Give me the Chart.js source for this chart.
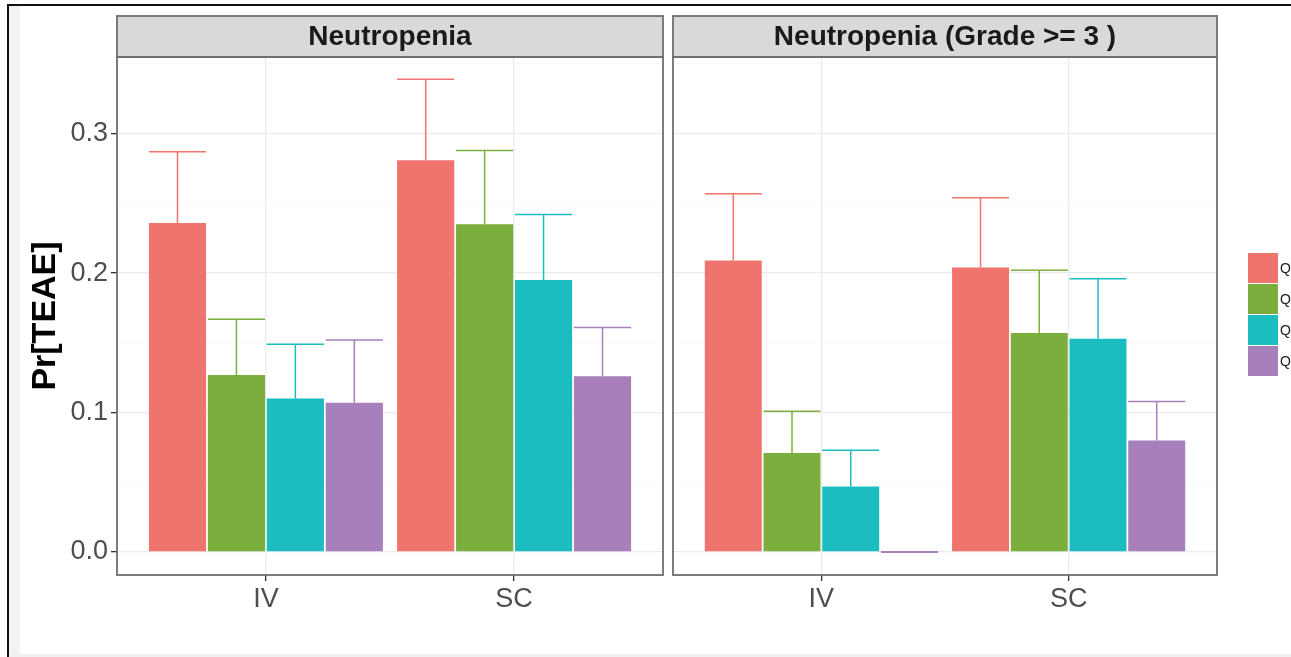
<!DOCTYPE html>
<html>
<head>
<meta charset="utf-8">
<title>Neutropenia by route and exposure quartile</title>
<script src="https://cdn.jsdelivr.net/npm/chart.js@4.4.1/dist/chart.umd.min.js"></script>
<style>
  html, body { margin: 0; padding: 0; background: #fff; }
  body { width: 1291px; height: 657px; position: relative; overflow: hidden; }
  .frame { position: absolute; left: 7px; top: 4px; right: 0; bottom: 0; border-left: 2px solid #111; border-top: 2px solid #111; }
  .margin { position: absolute; left: 9px; top: 6px; width: 11px; bottom: 3px; background: #f3f3f3; }
  .foot { position: absolute; left: 9px; right: 0; bottom: 0; height: 3px; background: #f0f0f0; }
  canvas { position: absolute; top: 0; }
  #anyGrade { left: 22px; }
  #grade3 { left: 668px; }
</style>
</head>
<body>
<div class="frame"></div>
<div class="margin"></div>
<div class="foot"></div>
<canvas id="anyGrade" width="646" height="652"></canvas>
<canvas id="grade3" width="623" height="652"></canvas>
<script>
const routes = ['IV', 'SC'];
const quartiles = ['Q1', 'Q2', 'Q3', 'Q4'];
const fills = ['#f0746e', '#7cae3e', '#1cbdc1', '#a67fbb'];

// probability of TEAE, one row per quartile: [IV, SC]
const anyGradeRate = [
  [0.236, 0.281],
  [0.127, 0.235],
  [0.110, 0.195],
  [0.107, 0.126]
];
const anyGradeUpper = [
  [0.287, 0.339],
  [0.167, 0.288],
  [0.149, 0.242],
  [0.152, 0.161]
];
const grade3Rate = [
  [0.209, 0.204],
  [0.071, 0.157],
  [0.047, 0.153],
  [0.000, 0.080]
];
const grade3Upper = [
  [0.257, 0.254],
  [0.101, 0.202],
  [0.073, 0.196],
  [null, 0.108]
];

const yTicks = [0, 0.05, 0.1, 0.15, 0.2, 0.25, 0.3, 0.35];
const isMajor = v => Math.abs(v * 10 - Math.round(v * 10)) < 1e-6;
const FONT = '"Liberation Sans", Arial, sans-serif';

// upper whiskers on top of each bar
const errorBars = {
  id: 'errorBars',
  afterDatasetsDraw(chart) {
    const ctx = chart.ctx;
    const y = chart.scales.y;
    chart.data.datasets.forEach((ds, i) => {
      chart.getDatasetMeta(i).data.forEach((bar, j) => {
        const hi = ds.upper[j];
        if (hi == null) return;
        const top = y.getPixelForValue(hi);
        const half = bar.width / 2;
        ctx.save();
        ctx.strokeStyle = ds.backgroundColor;
        ctx.lineWidth = 1.5;
        ctx.beginPath();
        ctx.moveTo(bar.x, bar.y);
        ctx.lineTo(bar.x, top);
        ctx.moveTo(bar.x - half, top);
        ctx.lineTo(bar.x + half, top);
        ctx.stroke();
        ctx.restore();
      });
    });
  }
};

// facet strip + panel border
const facet = {
  id: 'facet',
  afterDraw(chart, args, opts) {
    const { ctx, chartArea: a } = chart;
    ctx.save();
    ctx.fillStyle = '#d9d9d9';
    ctx.fillRect(a.left, 16, a.right - a.left, a.top - 16);
    ctx.strokeStyle = '#6f6f6f';
    ctx.lineWidth = 1.8;
    ctx.strokeRect(a.left, 16, a.right - a.left, a.top - 16);
    ctx.strokeRect(a.left, a.top, a.right - a.left, a.bottom - a.top);
    ctx.fillStyle = '#1a1a1a';
    ctx.font = 'bold 28px ' + FONT;
    ctx.textAlign = 'center';
    ctx.textBaseline = 'middle';
    ctx.fillText(opts.text, (a.left + a.right) / 2, (16 + a.top) / 2 + 1);
    ctx.restore();
  }
};

const keyLegend = {
  id: 'keyLegend',
  afterDraw(chart, args, opts) {
    if (!opts.show) return;
    const ctx = chart.ctx;
    const x0 = chart.chartArea.right + 31;
    const y0 = 253;
    const key = 31;
    ctx.save();
    chart.data.datasets.forEach((ds, i) => {
      ctx.fillStyle = ds.backgroundColor;
      ctx.fillRect(x0, y0 + i * key, 30, key - 1);
      ctx.fillStyle = '#1a1a1a';
      ctx.font = '14px ' + FONT;
      ctx.textBaseline = 'middle';
      ctx.fillText(ds.label, x0 + 32, y0 + i * key + key / 2 + 1);
    });
    ctx.restore();
  }
};

function makePanel(id, title, rates, uppers, showY) {
  const datasets = quartiles.map((q, i) => ({
    label: q,
    data: routes.map((r, j) => ({ x: j + 1, y: rates[i][j] })),
    upper: uppers[i],
    backgroundColor: fills[i],
    borderWidth: 0,
    barPercentage: 0.97,
    categoryPercentage: 0.95,
    minBarLength: 2
  }));

  return new Chart(document.getElementById(id), {
    type: 'bar',
    data: { datasets },
    plugins: [errorBars, facet, keyLegend],
    options: {
      responsive: false,
      animation: false,
      layout: { padding: { top: 57, right: showY ? 5 : 74, left: 0, bottom: 0 } },
      scales: {
        x: {
          type: 'linear',
          min: 0.4,
          max: 2.6,
          offset: false,
          afterBuildTicks: s => { s.ticks = routes.map((r, j) => ({ value: j + 1 })); },
          afterFit: s => { s.height = 77; },
          ticks: {
            callback: v => routes[v - 1],
            color: '#4d4d4d',
            font: { family: FONT, size: 27 },
            padding: 2,
            maxRotation: 0
          },
          grid: { offset: false, color: '#ebebeb', lineWidth: 1.3, tickColor: '#333', tickLength: 6, tickWidth: 1.3 },
          border: { display: false }
        },
        y: {
          min: -0.0165,
          max: 0.355,
          afterBuildTicks: s => { s.ticks = yTicks.map(v => ({ value: v })); },
          afterFit: s => { s.width = showY ? 95 : 5; },
          title: {
            display: showY,
            text: 'Pr[TEAE]',
            color: '#000',
            font: { family: FONT, size: 34, weight: 'bold' },
            padding: { top: 3, bottom: 0 }
          },
          ticks: {
            display: showY,
            callback: v => isMajor(v) ? v.toFixed(1) : '',
            color: '#4d4d4d',
            font: { family: FONT, size: 27 },
            padding: 3
          },
          grid: {
            color: c => isMajor(c.tick.value) ? '#ebebeb' : '#f5f5f5',
            lineWidth: c => isMajor(c.tick.value) ? 1.3 : 0.7,
            drawTicks: showY,
            tickColor: c => isMajor(c.tick.value) ? '#333' : 'rgba(0,0,0,0)',
            tickLength: 6,
            tickWidth: 1.3
          },
          border: { display: false }
        }
      },
      plugins: {
        legend: { display: false },
        tooltip: { enabled: false },
        facet: { text: title },
        keyLegend: { show: !showY }
      }
    }
  });
}

makePanel('anyGrade', 'Neutropenia', anyGradeRate, anyGradeUpper, true);
makePanel('grade3', 'Neutropenia (Grade >= 3 )', grade3Rate, grade3Upper, false);
</script>
</body>
</html>
